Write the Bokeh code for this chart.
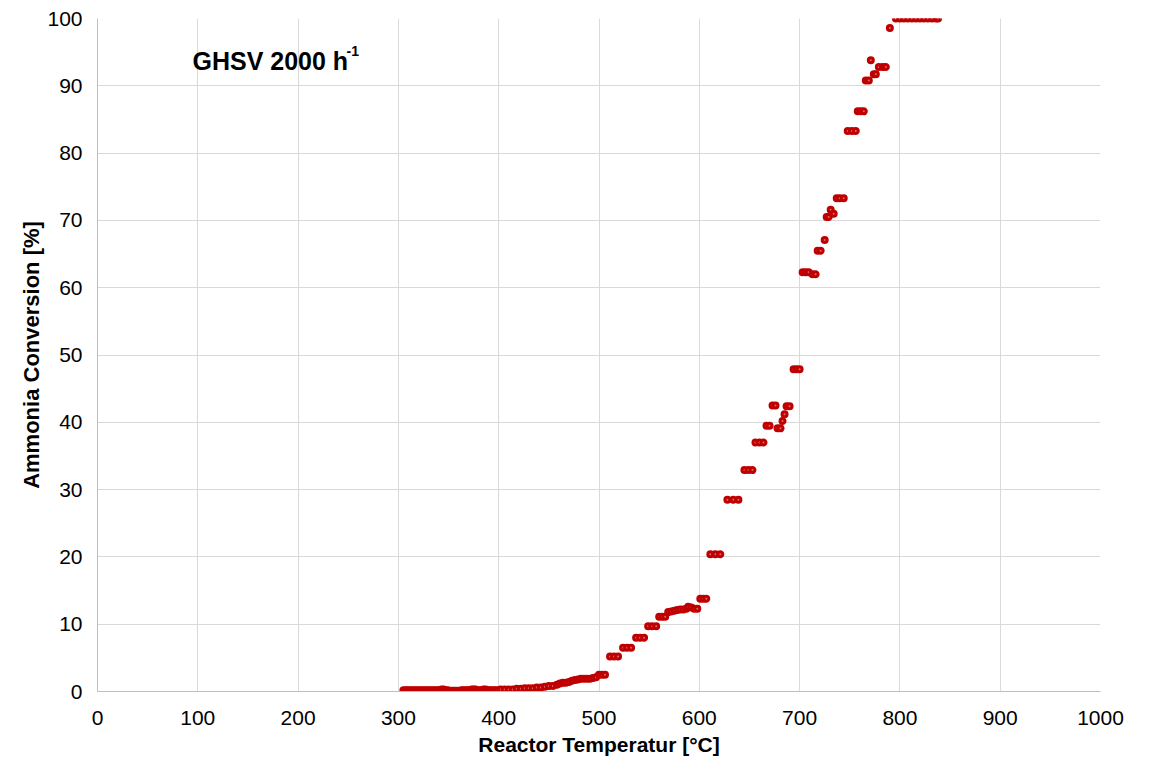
from bokeh.plotting import figure
from bokeh.models import Label, FixedTicker, Range1d
from bokeh.embed import file_html
from bokeh.resources import INLINE

# Reactor temperature [°C] and ammonia conversion [%]
temp_low = [305, 307, 309, 311, 313, 315, 317, 319, 321, 323, 325, 327, 329, 331, 333, 335,
            337, 339, 341, 343, 345, 347, 349, 351, 353, 355, 357, 359, 361, 363, 365, 367,
            369, 371, 373, 375, 377, 379, 381, 383, 385, 387, 389, 391, 393, 395, 397, 399]
conv_low = [0.2, 0.2, 0.2, 0.2, 0.2, 0.2, 0.2, 0.2, 0.2, 0.2, 0.2, 0.2, 0.2, 0.2, 0.2, 0.2,
            0.2, 0.2, 0.2, 0.3, 0.3, 0.2, 0.2, 0.1, 0.1, 0.1, 0.1, 0.1, 0.1, 0.2, 0.2, 0.2,
            0.2, 0.2, 0.3, 0.3, 0.3, 0.2, 0.2, 0.2, 0.3, 0.3, 0.2, 0.2, 0.2, 0.2, 0.2, 0.2]

temp_mid = [402, 406, 410, 414, 418, 422, 426, 430, 434, 438, 442, 446, 450, 454, 458, 461,
            464, 467, 470, 473, 476, 479, 482, 485, 488, 491, 494, 497, 500, 503, 506, 511,
            515, 519, 524, 528, 532, 537, 541, 545, 549, 553, 557, 560, 563, 566, 569, 572,
            575, 578, 581, 584, 587, 589, 592, 595, 598, 601, 604, 607, 611, 616, 621]
conv_mid = [0.3, 0.3, 0.3, 0.3, 0.4, 0.4, 0.5, 0.5, 0.5, 0.6, 0.6, 0.7, 0.8, 0.8, 1.0, 1.2,
            1.3, 1.3, 1.4, 1.6, 1.7, 1.8, 1.9, 1.9, 1.9, 1.9, 2.0, 2.1, 2.5, 2.5, 2.5, 5.2,
            5.2, 5.2, 6.5, 6.5, 6.5, 8.0, 8.0, 8.0, 9.7, 9.7, 9.7, 11.1, 11.1, 11.1, 11.8, 11.9,
            12.0, 12.1, 12.2, 12.2, 12.3, 12.6, 12.5, 12.3, 12.3, 13.8, 13.8, 13.8, 20.4, 20.4, 20.4]

temp_high = [628, 634, 639, 645, 649, 653, 656, 660, 664, 667, 670, 673, 676, 678, 681, 683,
             685, 687, 690, 694, 697, 700, 703, 706, 709, 713, 716, 718, 721, 725, 727, 729,
             731, 734, 737, 740, 744, 748, 752, 756, 758, 761, 764, 766, 769, 771, 774, 776,
             779, 783, 786, 790, 796, 800, 804, 808, 812, 816, 820, 824, 828, 832, 836, 838]
conv_high = [28.5, 28.5, 28.5, 32.9, 32.9, 32.9, 37.0, 37.0, 37.0, 39.5, 39.5, 42.5, 42.5, 39.1, 39.1, 40.2,
             41.2, 42.4, 42.4, 47.9, 47.9, 47.9, 62.3, 62.3, 62.3, 62.0, 62.0, 65.5, 65.5, 67.1, 70.5, 70.5,
             71.6, 71.0, 73.3, 73.3, 73.3, 83.3, 83.3, 83.3, 86.2, 86.2, 86.2, 90.8, 90.8, 93.8, 91.7, 91.7,
             92.8, 92.8, 92.8, 98.6, 100, 100, 100, 100, 100, 100, 100, 100, 100, 100, 100, 100]

temperature = temp_low + temp_mid + temp_high
conversion = conv_low + conv_mid + conv_high

x_ticks = [0, 100, 200, 300, 400, 500, 600, 700, 800, 900, 1000]
y_ticks = [0, 10, 20, 30, 40, 50, 60, 70, 80, 90, 100]

FONT = "Liberation Sans"

p = figure(frame_width=1003, frame_height=673, output_backend="svg", toolbar_location=None,
           x_range=Range1d(0, 1000), y_range=Range1d(0, 100),
           min_border_left=97, min_border_top=18, min_border_right=30, min_border_bottom=50)
p.outline_line_color = None
p.background_fill_color = "white"

p.scatter(temperature, conversion, size=5, line_width=3,
          line_color="#C00000", fill_color="#D46A6A")

p.xaxis.ticker = FixedTicker(ticks=x_ticks)
p.yaxis.ticker = FixedTicker(ticks=y_ticks)
for ax in (p.xaxis[0], p.yaxis[0]):
    ax.axis_line_color = "#BFBFBF"
    ax.axis_line_width = 1
    ax.major_tick_line_color = None
    ax.minor_tick_line_color = None
    ax.major_label_text_font = FONT
    ax.major_label_text_font_size = "21px"
    ax.major_label_text_color = "#000000"
    ax.axis_label_text_font = FONT
    ax.axis_label_text_font_style = "bold"
    ax.axis_label_text_color = "#000000"

p.xaxis.axis_label_text_font_size = "21px"
p.yaxis.axis_label_text_font_size = "22px"
p.xaxis.axis_label = "Reactor Temperatur [°C]"
p.yaxis.axis_label = "Ammonia Conversion [%]"
p.xaxis.major_label_standoff = 13
p.yaxis.major_label_standoff = 9
p.xaxis.axis_label_standoff = 5
p.yaxis.axis_label_standoff = 0

p.xgrid.grid_line_color = "#D9D9D9"
p.ygrid.grid_line_color = "#D9D9D9"

p.add_layout(Label(x=94.7, y=93.66, text="GHSV 2000 h", text_font=FONT, text_font_style="bold",
                   text_font_size="25px", text_color="black", text_baseline="alphabetic"))
p.add_layout(Label(x=94.7, y=93.66, x_offset=154, y_offset=10, text="-1", text_font=FONT,
                   text_font_style="bold", text_font_size="14px", text_color="black",
                   text_baseline="alphabetic"))

open("out.html", "w").write(file_html(p, INLINE))
